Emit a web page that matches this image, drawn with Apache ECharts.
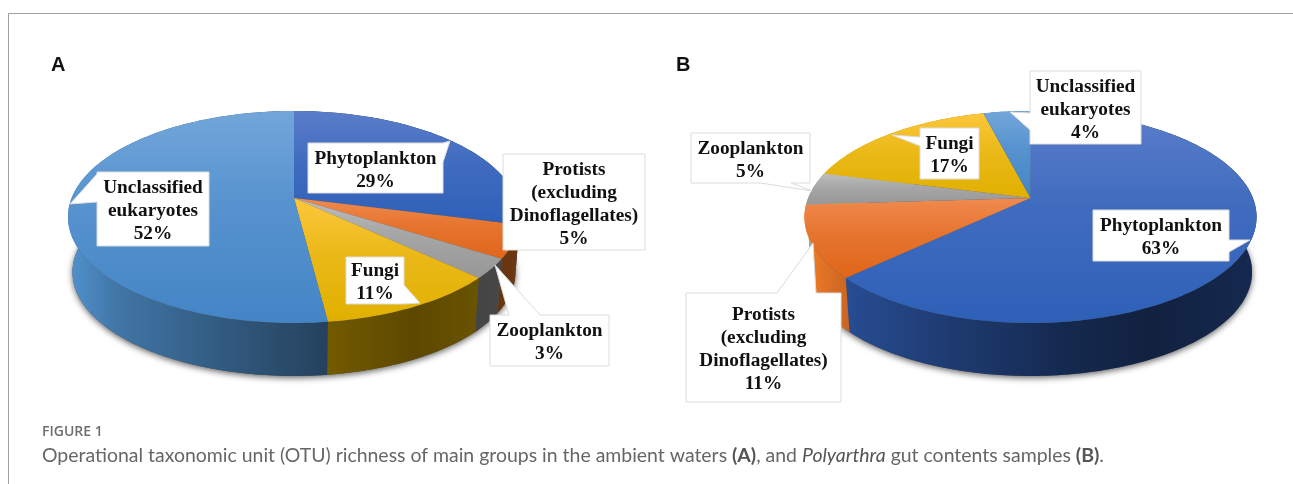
<!DOCTYPE html>
<html>
<head>
<meta charset="utf-8">
<script src="https://cdn.jsdelivr.net/npm/echarts@6/dist/echarts.min.js"></script>
<style>
  html, body { margin: 0; padding: 0; background: #fff; }
  #chart { width: 1293px; height: 484px; }
</style>
</head>
<body>
<div id="chart"></div>
<script>
// slices run clockwise from 12 o'clock
const categories = ['Phytoplankton', 'Protists\n(excluding\nDinoflagellates)', 'Zooplankton', 'Fungi', 'Unclassified\neukaryotes'];
const valuesA = [29, 5, 3, 11, 52];
const valuesB = [63, 11, 5, 17, 4];

const faceColors = [
  ['#5a7dca', '#2e60b8'],
  ['#f08a4e', '#e0661a'],
  ['#bdbdbd', '#979797'],
  ['#fcc73c', '#e0b000'],
  ['#72a6da', '#4485c6']
];
const wallBase = ['#2f5cb0', '#f07a28', '#a5a5a5', '#ffc800', '#4f90cc'];
// brightness of the side wall, left to right over the pie
const wallShade = [[0, 1], [0.1, 0.82], [0.35, 0.62], [0.58, 0.45], [0.77, 0.36], [1, 0.45]];

// pie projection
const RX = 222.4, RY = 102.6, PERSP = 0.179, WALL = 55.5, WALL_SCALE = 0.98;
const centerA = [294, 198], centerB = [1030.5, 198];

// callout layout: box [x0, y0, x1, y1], tail [side, from, to, tipX, tipY]
const calloutsA = [
  { box: [308, 143, 443, 193], tail: ['right', 143, 162, 450, 141] },
  { box: [503, 154, 645, 250], tail: null },
  { box: [490, 315, 609, 366], tail: ['top', 509, 540, 495, 265] },
  { box: [346, 257, 404, 304], tail: ['right', 285, 304, 420, 303] },
  { box: [97, 172, 209, 246], tail: ['left', 174, 202, 70, 204] }
];
const calloutsB = [
  { box: [1093, 210, 1229, 261], tail: ['right', 240, 252, 1250, 240] },
  { box: [686, 293, 841, 402], tail: ['top', 777, 816, 813, 243] },
  { box: [691, 133, 810, 183], tail: ['bottom', 761, 791, 812, 191] },
  { box: [920, 128, 979, 179], tail: ['left', 137, 146, 892, 135] },
  { box: [1030, 71, 1141, 144], tail: ['left', 113, 130, 1010, 112] }
];

function rimPoint(center, theta, wall) {
  let u = Math.sin(theta), v = -Math.cos(theta);
  let s = 1 / (1 - PERSP * v);
  let x = RX * u * s, y = RY * v * s;
  if (wall) return [center[0] + x * WALL_SCALE, center[1] + WALL + y * WALL_SCALE];
  return [center[0] + x, center[1] + y];
}

function arcPoints(center, from, to, wall) {
  let pts = [];
  let n = Math.max(2, Math.ceil((to - from) / 0.02));
  for (let i = 0; i <= n; i++) pts.push(rimPoint(center, from + (to - from) * i / n, wall));
  return pts;
}

function shade(hex, k) {
  let c = echarts.color.parse(hex);
  return 'rgb(' + Math.round(c[0] * k) + ',' + Math.round(c[1] * k) + ',' + Math.round(c[2] * k) + ')';
}

function calloutPoints(c) {
  let [x0, y0, x1, y1] = c.box;
  let t = c.tail;
  let pts = [[x0, y0]];
  if (t && t[0] == 'top') pts.push([t[1], y0], [t[3], t[4]], [t[2], y0]);
  pts.push([x1, y0]);
  if (t && t[0] == 'right') pts.push([x1, t[1]], [t[3], t[4]], [x1, t[2]]);
  pts.push([x1, y1]);
  if (t && t[0] == 'bottom') pts.push([t[2], y1], [t[3], t[4]], [t[1], y1]);
  pts.push([x0, y1]);
  if (t && t[0] == 'left') pts.push([x0, t[2]], [t[3], t[4]], [x0, t[1]]);
  return pts;
}

function makeSeries(values, center, callouts) {
  let total = values.reduce((a, b) => a + b, 0);
  return {
    type: 'custom',
    coordinateSystem: 'none',
    silent: true,
    animation: false,
    clip: false,
    data: values,
    renderItem(params, api) {
      let i = params.dataIndex;
      let before = values.slice(0, i).reduce((a, b) => a + b, 0);
      let from = before / total * Math.PI * 2;
      let to = (before + api.value(0)) / total * Math.PI * 2;
      let left = center[0] - RX, right = center[0] + RX;
      let children = [];
      if (i == 0) {
        // soft shadow under the pie
        children.push({
          type: 'polygon', z2: 0,
          shape: { points: arcPoints(center, 0, Math.PI * 2, true) },
          style: { fill: '#555', shadowBlur: 6, shadowColor: 'rgba(0,0,0,0.6)', shadowOffsetY: 2 }
        });
      }
      let wallPts = arcPoints(center, from, to, false).concat(arcPoints(center, from, to, true).reverse());
      children.push({
        type: 'polygon', z2: 1,
        shape: { points: wallPts },
        style: {
          fill: new echarts.graphic.LinearGradient(left, 0, right, 0,
            wallShade.map(s => ({ offset: s[0], color: shade(wallBase[i], s[1]) })), true)
        }
      });
      children.push({
        type: 'polygon', z2: 10,
        shape: { points: [center].concat(arcPoints(center, from, to, false)) },
        style: {
          fill: new echarts.graphic.LinearGradient(0, 0, 0, 1, [
            { offset: 0, color: faceColors[i][0] },
            { offset: 0.45, color: echarts.color.lerp(0.6, faceColors[i]) },
            { offset: 1, color: faceColors[i][1] }
          ])
        }
      });
      let c = callouts[i];
      children.push({
        type: 'polygon', z2: 20,
        shape: { points: calloutPoints(c) },
        style: { fill: '#fff', stroke: '#dcdcdc', lineWidth: 1 }
      });
      children.push({
        type: 'text', z2: 21,
        x: (c.box[0] + c.box[2]) / 2,
        y: (c.box[1] + c.box[3]) / 2 + 2.5,
        style: {
          text: categories[i] + '\n' + api.value(0) + '%',
          font: 'bold 19.3px "Liberation Serif"',
          lineHeight: 23,
          fill: '#111',
          align: 'center',
          verticalAlign: 'middle'
        }
      });
      return { type: 'group', children: children };
    }
  };
}

const chart = echarts.init(document.getElementById('chart'));
chart.setOption({
  animation: false,
  backgroundColor: '#fff',
  graphic: [
    { type: 'line', shape: { x1: 8.5, y1: 13.5, x2: 1293, y2: 13.5 }, style: { stroke: '#a0a0a0', lineWidth: 1 } },
    { type: 'line', shape: { x1: 8.5, y1: 13.5, x2: 8.5, y2: 484 }, style: { stroke: '#a0a0a0', lineWidth: 1 } },
    { type: 'text', x: 51, y: 55, style: { text: 'A', font: 'bold 20px "Liberation Sans"', fill: '#111' } },
    { type: 'text', x: 676, y: 55, style: { text: 'B', font: 'bold 20px "Liberation Sans"', fill: '#111' } },
    { type: 'text', x: 42, y: 425, style: { text: 'FIGURE 1', font: '600 14px "Open Sans"', fill: '#6d6d6d' } },
    {
      type: 'text', x: 42, y: 446,
      style: {
        text: '{r|Operational taxonomic unit (OTU) richness of main groups in the ambient waters }{b|(A)}{r|, and }{i|Polyarthra}{r| gut contents samples }{b|(B)}{r|.}',
        rich: {
          r: { font: '19.45px Lato', fill: '#666' },
          b: { font: 'bold 19.45px Lato', fill: '#555' },
          i: { font: 'italic 19.45px Lato', fill: '#555' }
        }
      }
    }
  ],
  series: [makeSeries(valuesA, centerA, calloutsA), makeSeries(valuesB, centerB, calloutsB)]
});
</script>
</body>
</html>
